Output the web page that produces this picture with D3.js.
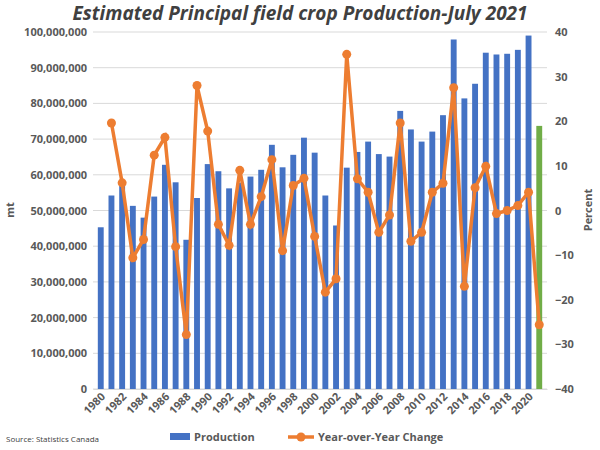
<!DOCTYPE html>
<html><head><meta charset="utf-8">
<script src="https://cdn.jsdelivr.net/npm/d3@7"></script>
<style>body{margin:0;background:#fff}text{font-family:"Open Sans",sans-serif}</style>
</head><body><svg id="c" width="600" height="450"></svg>
<script>
const years = d3.range(1980, 2022);
const production = [45.3,54.2,57,51.3,48,53.9,62.8,57.9,41.8,53.5,63,61,56.2,57.8,59.5,61.4,68.4,62.1,65.6,70.4,66.2,54.2,45.8,62,66.4,69.3,65.8,65.1,77.9,72.7,69.3,72.1,76.7,97.9,81.4,85.5,94.2,93.7,93.9,95,99,73.7].map(v => v * 1e6);
const changeYears = d3.range(1981, 2022);
const change = [19.6,6.2,-10.6,-6.5,12.4,16.4,-8.1,-27.8,28,17.8,-3.1,-7.8,9,-3.1,3.1,11.4,-9,5.6,7.2,-5.8,-18.3,-15.3,35,7.1,4.1,-4.9,-1,19.6,-6.9,-4.9,4.1,6.1,27.5,-17,5.1,9.9,-0.7,0,1.1,4.1,-25.6];

const svg = d3.select('#c');
const m = {l: 93, r: 53, t: 32, b: 61};
const W = 600 - m.l - m.r, H = 450 - m.t - m.b;
const g = svg.append('g').attr('transform', `translate(${m.l},${m.t})`);

const x = d3.scaleBand().domain(years).range([0, W]).padding(0.45);
const y = d3.scaleLinear().domain([0, 1e8]).range([H, 0]);
const y2 = d3.scaleLinear().domain([-40, 40]).range([H, 0]);

g.selectAll('.grid').data(y.ticks(10)).join('line')
  .attr('x1', 0).attr('x2', W).attr('y1', d => y(d)).attr('y2', d => y(d))
  .attr('stroke', '#d9d9d9');

g.selectAll('.bar').data(years).join('rect')
  .attr('x', d => x(d)).attr('width', x.bandwidth())
  .attr('y', (d, i) => y(production[i])).attr('height', (d, i) => H - y(production[i]))
  .attr('fill', d => d === 2021 ? '#70ad47' : '#4472c4');

const cx = d => x(d) + x.bandwidth() / 2;
const line = d3.line().x((d, i) => cx(changeYears[i])).y(d => y2(d));
g.append('path').datum(change).attr('d', line).attr('fill', 'none')
  .attr('stroke', '#ed7d31').attr('stroke-width', 3.5);
g.selectAll('.pt').data(change).join('circle')
  .attr('cx', (d, i) => cx(changeYears[i])).attr('cy', d => y2(d)).attr('r', 4.5)
  .attr('fill', '#ed7d31');

const ax = g.append('g').call(d3.axisLeft(y).ticks(10).tickFormat(d3.format(',')).tickSize(0).tickPadding(6));
ax.select('.domain').remove();
ax.selectAll('text').attr('font-size', 11).attr('fill', '#595959').attr('font-weight', 'bold');
const ar = g.append('g').attr('transform', `translate(${W},0)`)
  .call(d3.axisRight(y2).ticks(8).tickSize(0).tickPadding(8));
ar.select('.domain').remove();
ar.selectAll('text').attr('font-size', 11).attr('fill', '#595959').attr('font-weight', 'bold');
const axb = g.append('g').attr('transform', `translate(0,${H})`)
  .call(d3.axisBottom(x).tickValues(years.filter(d => d % 2 === 0)).tickSize(0).tickPadding(4));
axb.select('.domain').attr('stroke', '#d9d9d9');
axb.selectAll('text').attr('font-size', 11).attr('fill', '#595959').attr('font-weight', 'bold')
  .attr('text-anchor', 'end').attr('transform', 'rotate(-45)').attr('dx', '-0.2em').attr('dy', '0.5em');

svg.append('text').attr('x', 300).attr('y', 20).attr('text-anchor', 'middle')
  .attr('font-size', 19).attr('font-weight', 'bold').attr('font-style', 'italic').attr('fill', '#404040')
  .text('Estimated Principal field crop Production-July 2021');
svg.append('text').attr('transform', 'translate(14,210) rotate(-90)').attr('text-anchor', 'middle')
  .attr('font-size', 11).attr('font-weight', 'bold').attr('fill', '#595959').text('mt');
svg.append('text').attr('transform', 'translate(592,210) rotate(-90)').attr('text-anchor', 'middle')
  .attr('font-size', 11).attr('font-weight', 'bold').attr('fill', '#595959').text('Percent');

const lg = svg.append('g').attr('transform', 'translate(0,437)');
lg.append('rect').attr('x', 170).attr('y', -4).attr('width', 20).attr('height', 7).attr('fill', '#4472c4');
lg.append('text').attr('x', 194).attr('y', 4).attr('font-size', 11).attr('font-weight', 'bold').attr('fill', '#595959').text('Production');
lg.append('line').attr('x1', 288).attr('x2', 314).attr('y1', 0).attr('y2', 0).attr('stroke', '#ed7d31').attr('stroke-width', 3.5);
lg.append('circle').attr('cx', 301).attr('cy', 0).attr('r', 4.5).attr('fill', '#ed7d31');
lg.append('text').attr('x', 318).attr('y', 4).attr('font-size', 11).attr('font-weight', 'bold').attr('fill', '#595959').text('Year-over-Year Change');
svg.append('text').attr('x', 6).attr('y', 442).attr('font-size', 8).attr('fill', '#404040').text('Source: Statistics Canada');
</script></body></html>
